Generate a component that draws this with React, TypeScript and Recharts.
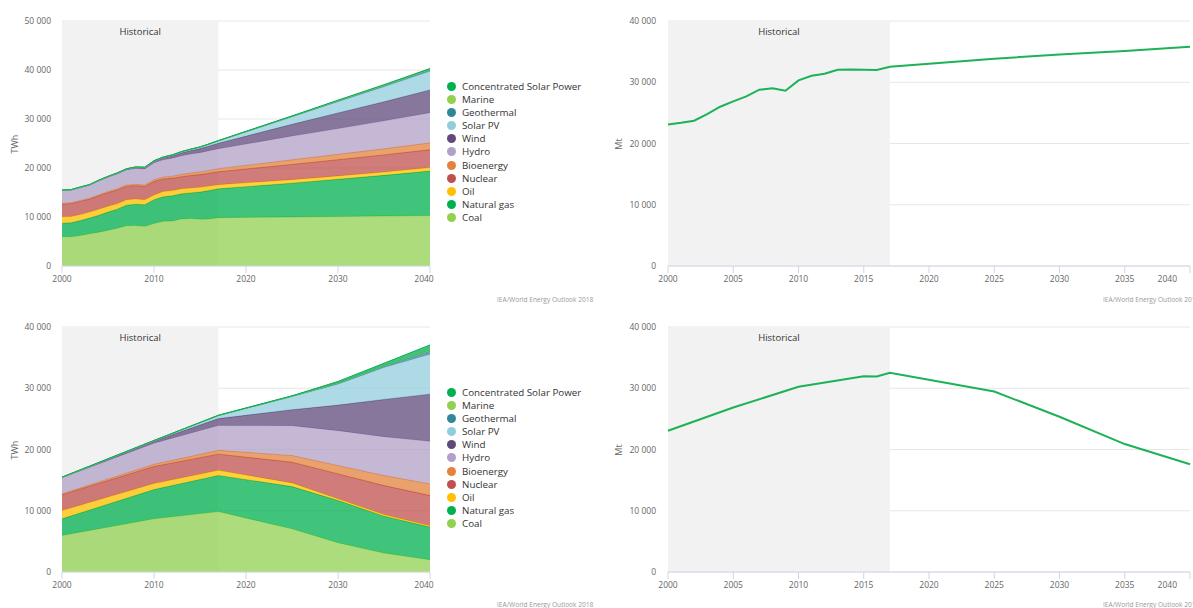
import { AreaChart, Area, LineChart, Line, XAxis, YAxis, CartesianGrid, ReferenceArea } from "recharts";

// New Policies: annual history 2000-2017, then projection years
const npsYears = [2000, 2001, 2002, 2003, 2004, 2005, 2006, 2007, 2008, 2009, 2010, 2011, 2012, 2013, 2014, 2015, 2016, 2017, 2025, 2030, 2035, 2040];
const npsCoal = [5990, 5950, 6220, 6600, 6900, 7300, 7700, 8200, 8250, 8100, 8660, 9140, 9170, 9610, 9700, 9540, 9590, 9860, 10000, 10100, 10200, 10330];
const npsGas = [2750, 2880, 3050, 3180, 3440, 3700, 3900, 4200, 4350, 4400, 4850, 4980, 5150, 5110, 5220, 5540, 5800, 5900, 6900, 7600, 8300, 9050];
const npsOil = [1300, 1280, 1240, 1230, 1220, 1200, 1120, 1130, 1080, 1030, 970, 1060, 1110, 1020, 1000, 1000, 930, 840, 720, 690, 690, 700];
const npsNuclear = [2590, 2650, 2690, 2640, 2770, 2770, 2800, 2720, 2730, 2700, 2760, 2580, 2460, 2480, 2540, 2570, 2610, 2640, 3100, 3300, 3480, 3650];
const npsBio = [160, 165, 175, 190, 205, 225, 240, 260, 290, 310, 370, 400, 440, 480, 510, 550, 580, 620, 950, 1100, 1250, 1400];
const npsHydro = [2620, 2570, 2640, 2650, 2830, 2930, 3030, 3080, 3210, 3250, 3440, 3500, 3660, 3790, 3890, 3930, 4030, 4060, 4850, 5250, 5700, 6150];
const npsWind = [31, 38, 52, 63, 85, 104, 132, 171, 220, 275, 342, 437, 524, 640, 710, 830, 960, 1130, 2400, 3200, 3900, 4650];
const npsSolar = [1, 1, 2, 2, 3, 4, 6, 8, 12, 20, 32, 64, 100, 140, 200, 250, 330, 440, 1500, 2300, 3050, 3800];
const npsGeo = [52, 52, 53, 54, 56, 58, 60, 62, 65, 67, 68, 69, 70, 72, 77, 80, 83, 86, 150, 200, 260, 320];
const npsMarine = [1, 1, 1, 1, 1, 1, 1, 1, 1, 1, 1, 1, 1, 1, 1, 1, 1, 1, 10, 20, 35, 50];
const npsCsp = [1, 1, 1, 1, 1, 1, 1, 1, 1, 1, 2, 3, 5, 8, 9, 10, 11, 12, 40, 80, 140, 200];
const npsCo2 = [23120, 23390, 23720, 24800, 26000, 26870, 27690, 28780, 29000, 28610, 30300, 31060, 31390, 32040, 32100, 32040, 31990, 32530, 33840, 34540, 35090, 35800];

// Sustainable Development
const sdsYears = [2000, 2010, 2017, 2025, 2030, 2035, 2040];
const sdsCoal = [5970, 8680, 9860, 7050, 4780, 3090, 2010];
const sdsGas = [2710, 4780, 5900, 6900, 6890, 6030, 5320];
const sdsOil = [1350, 1000, 840, 600, 280, 270, 210];
const sdsNuclear = [2590, 2760, 2640, 3370, 4070, 4720, 4940];
const sdsBio = [160, 370, 620, 1090, 1360, 1630, 1900];
const sdsHydro = [2620, 3440, 4060, 4880, 5700, 6350, 6950];
const sdsWind = [31, 342, 1130, 2600, 4170, 6080, 7710];
const sdsSolar = [1, 32, 440, 2120, 3420, 5210, 6510];
const sdsGeo = [52, 68, 86, 110, 180, 250, 550];
const sdsMarine = [1, 1, 1, 5, 20, 50, 120];
const sdsCsp = [1, 2, 12, 45, 240, 400, 850];

const sdsCo2Years = [2000, 2005, 2010, 2015, 2016, 2017, 2025, 2030, 2035, 2040];
const sdsCo2 = [23060, 26860, 30230, 31970, 31910, 32510, 29470, 25340, 20890, 17580];

const leftTicks = [2000, 2010, 2020, 2030, 2040];
const rightTicks = [2000, 2005, 2010, 2015, 2020, 2025, 2030, 2035, 2040];
const source = "IEA/World Energy Outlook 2018";

// stacking order, bottom to top
const series = [
  { key: "coal", name: "Coal", color: "#92d050" },
  { key: "gas", name: "Natural gas", color: "#00b050" },
  { key: "oil", name: "Oil", color: "#ffc000" },
  { key: "nuclear", name: "Nuclear", color: "#c0504d" },
  { key: "bio", name: "Bioenergy", color: "#e2823c" },
  { key: "hydro", name: "Hydro", color: "#b1a0c7" },
  { key: "wind", name: "Wind", color: "#604a7b" },
  { key: "solar", name: "Solar PV", color: "#92cddc" },
  { key: "geo", name: "Geothermal", color: "#31869b" },
  { key: "marine", name: "Marine", color: "#92d050" },
  { key: "csp", name: "Concentrated Solar Power", color: "#00b050" },
];

const npsRows = npsYears.map((year, i) => ({
  year, coal: npsCoal[i], gas: npsGas[i], oil: npsOil[i], nuclear: npsNuclear[i], bio: npsBio[i],
  hydro: npsHydro[i], wind: npsWind[i], solar: npsSolar[i], geo: npsGeo[i], marine: npsMarine[i], csp: npsCsp[i],
}));
const sdsRows = sdsYears.map((year, i) => ({
  year, coal: sdsCoal[i], gas: sdsGas[i], oil: sdsOil[i], nuclear: sdsNuclear[i], bio: sdsBio[i],
  hydro: sdsHydro[i], wind: sdsWind[i], solar: sdsSolar[i], geo: sdsGeo[i], marine: sdsMarine[i], csp: sdsCsp[i],
}));
const npsCo2Rows = npsYears.map((year, i) => ({ year, co2: npsCo2[i] }));
const sdsCo2Rows = sdsCo2Years.map((year, i) => ({ year, co2: sdsCo2[i] }));

const font = "'Open Sans', sans-serif";
const fmt = (v: number) => String(v).replace(/\B(?=(\d{3})+(?!\d))/g, " ");

const YearTick = (props: any) => {
  const { x, y, payload, endAlign } = props;
  const last = endAlign && payload.value === 2040;
  return (
    <text x={x} y={y} dy={8.5} textAnchor={last ? "end" : "middle"} fill="#666" fontSize={8.5} fontFamily={font}>
      {payload.value}
    </text>
  );
};

function xAxis(ticks: number[], endAlign: boolean) {
  return (
    <XAxis
      type="number"
      dataKey="year"
      domain={[2000, 2040]}
      ticks={ticks}
      height={34}
      stroke="#ccd6eb"
      tickLine={{ stroke: "#ccd6eb" }}
      tickSize={7}
      tickMargin={0}
      tick={<YearTick endAlign={endAlign} />}
    />
  );
}

function yAxis(max: number, width: number, margin: number) {
  const ticks = [];
  for (let v = 0; v <= max; v += 10000) ticks.push(v);
  return (
    <YAxis
      domain={[0, max]}
      ticks={ticks}
      width={width}
      axisLine={false}
      tickLine={false}
      tickMargin={margin}
      tickFormatter={fmt}
      tick={{ fill: "#666", fontSize: 8.5, fontFamily: font }}
    />
  );
}

const historical = (
  <ReferenceArea
    x1={2000}
    x2={2017}
    fill="#f2f2f2"
    fillOpacity={1}
    stroke="none"
    label={{ value: "Historical", position: "insideTop", offset: 7, fill: "#333", fontSize: 9.5, fontFamily: font }}
  />
);

function MixChart({ rows, max }: { rows: any[]; max: number }) {
  return (
    <AreaChart width={440} height={300} data={rows} margin={{ top: 21, right: 10, left: 0, bottom: 0 }}>
      {historical}
      <CartesianGrid vertical={false} stroke="#e6e6e6" />
      {xAxis(leftTicks, false)}
      {yAxis(max, 62, 5)}
      {series.map((s) => (
        <Area
          key={s.key}
          type="linear"
          dataKey={s.key}
          name={s.name}
          stackId="1"
          stroke={s.color}
          strokeWidth={1}
          fill={s.color}
          fillOpacity={0.75}
          isAnimationActive={false}
        />
      ))}
    </AreaChart>
  );
}

function Co2Chart({ rows }: { rows: any[] }) {
  return (
    <LineChart width={593} height={300} data={rows} margin={{ top: 21, right: 3, left: 0, bottom: 0 }}>
      {historical}
      <CartesianGrid vertical={false} stroke="#e6e6e6" />
      {xAxis(rightTicks, true)}
      {yAxis(40000, 68, 6)}
      <Line type="linear" dataKey="co2" stroke="#1db257" strokeWidth={2} dot={false} isAnimationActive={false} />
    </LineChart>
  );
}

function MixLegend({ top }: { top: number }) {
  return (
    <div style={{ position: "absolute", left: 447, top, fontFamily: font, fontSize: 9.8, color: "#333" }}>
      {[...series].reverse().map((s) => (
        <div key={s.key} style={{ height: 13.15, display: "flex", alignItems: "center", whiteSpace: "nowrap" }}>
          <span style={{ width: 9, height: 9, borderRadius: "50%", background: s.color, marginRight: 6, flexShrink: 0 }} />
          {s.name}
        </div>
      ))}
    </div>
  );
}

const unitStyle = (left: number, top: number): React.CSSProperties => ({
  position: "absolute",
  left,
  top,
  transform: "translate(-50%, -50%) rotate(-90deg)",
  fontFamily: font,
  fontSize: 9,
  color: "#666",
});

const sourceStyle = (left: number, top: number): React.CSSProperties => ({
  position: "absolute",
  left,
  top,
  fontFamily: font,
  fontSize: 6.6,
  color: "#999",
  whiteSpace: "nowrap",
});

export default function App() {
  return (
    <div style={{ position: "absolute", left: 0, top: 0, width: 1193, height: 608, overflow: "hidden", background: "#fff" }}>
      <div style={{ position: "absolute", left: 0, top: 0 }}>
        <MixChart rows={npsRows} max={50000} />
      </div>
      <div style={{ position: "absolute", left: 0, top: 306 }}>
        <MixChart rows={sdsRows} max={40000} />
      </div>
      <div style={{ position: "absolute", left: 600, top: 0 }}>
        <Co2Chart rows={npsCo2Rows} />
      </div>
      <div style={{ position: "absolute", left: 600, top: 306 }}>
        <Co2Chart rows={sdsCo2Rows} />
      </div>
      <MixLegend top={79.6} />
      <MixLegend top={385.6} />
      <div style={unitStyle(14, 144)}>TWh</div>
      <div style={unitStyle(14, 450)}>TWh</div>
      <div style={unitStyle(618, 144)}>Mt</div>
      <div style={unitStyle(618, 450)}>Mt</div>
      <div style={sourceStyle(497, 295)}>{source}</div>
      <div style={sourceStyle(1103, 295)}>{source}</div>
      <div style={sourceStyle(497, 600)}>{source}</div>
      <div style={sourceStyle(1103, 600)}>{source}</div>
    </div>
  );
}
